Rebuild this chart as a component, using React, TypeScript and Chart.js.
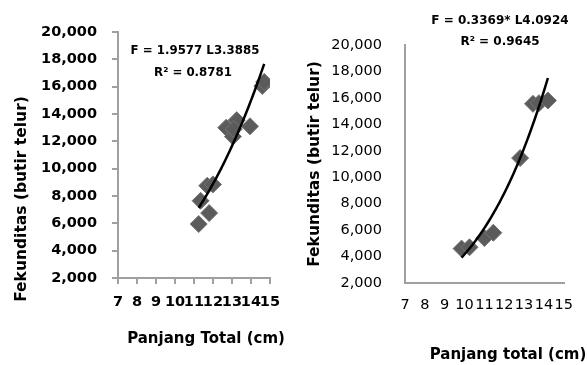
import React, { useEffect, useRef } from "react";
import { Chart, registerables } from "chart.js";

Chart.register(...registerables);

// ---- data ----
const leftLength = [11.25, 11.8, 11.35, 11.7, 12.0, 12.7, 13.25, 13.05, 13.1, 13.95, 14.6, 14.7];
const leftFecundity = [5950, 6750, 7650, 8750, 8850, 13000, 13550, 12350, 12900, 13100, 16050, 16350];
const leftCoefA = 1.9577;
const leftCoefB = 3.3885;
const leftEquation = ["F = 1.9577 L3.3885", "R² = 0.8781"];

const rightLength = [9.85, 10.25, 11.0, 11.45, 12.8, 13.45, 13.75, 14.2];
const rightFecundity = [4600, 4700, 5400, 5800, 11450, 15550, 15600, 15800];
const rightCoefA = 0.3369;
const rightCoefB = 4.0924;
const rightEquation = ["F = 0.3369* L4.0924", "R² = 0.9645"];

const xTicks = [7, 8, 9, 10, 11, 12, 13, 14, 15];
const yTicks = [2000, 4000, 6000, 8000, 10000, 12000, 14000, 16000, 18000, 20000];

const FONT = "'DejaVu Sans', sans-serif";

type PanelCfg = {
  left: number;
  width: number;
  height: number;
  padTop: number;
  padRight: number;
  yWidth: number;
  xHeight: number;
  tickWeight: string;
  tickSize: number;
  yPad: number;
  xPad: number;
  showTickMarks: boolean;
  eq: string[];
  eqPos: { x: number; y: number }[];
  eqSize: number;
  xTitle: string;
  xTitlePos: { x: number; y: number };
  yTitle: string;
  yTitlePos: { x: number; y: number };
  titleSize: number;
  yTitleSize: number;
};

function Panel({ xs, ys, a, b, cfg }: { xs: number[]; ys: number[]; a: number; b: number; cfg: PanelCfg }) {
  const ref = useRef<HTMLCanvasElement | null>(null);
  useEffect(() => {
    if (!ref.current) return;
    const pts = xs.map((x, i) => ({ x, y: ys[i] }));
    const lo = Math.min(...xs);
    const hi = Math.max(...xs);
    const n = 50;
    const fit: { x: number; y: number }[] = [];
    for (let i = 0; i <= n; i++) {
      const x = lo + ((hi - lo) * i) / n;
      fit.push({ x, y: a * Math.pow(x, b) });
    }
    const textPlugin = {
      id: "texts",
      afterDraw(chart: any) {
        const ctx = chart.ctx;
        ctx.save();
        ctx.fillStyle = "#000";
        ctx.textAlign = "center";
        ctx.textBaseline = "middle";
        ctx.font = `bold ${cfg.eqSize}px ${FONT}`;
        cfg.eq.forEach((t, i) => ctx.fillText(t, cfg.eqPos[i].x, cfg.eqPos[i].y));
        ctx.font = `bold ${cfg.titleSize}px ${FONT}`;
        ctx.fillText(cfg.xTitle, cfg.xTitlePos.x, cfg.xTitlePos.y);
        ctx.font = `bold ${cfg.yTitleSize}px ${FONT}`;
        ctx.translate(cfg.yTitlePos.x, cfg.yTitlePos.y);
        ctx.rotate(-Math.PI / 2);
        ctx.fillText(cfg.yTitle, 0, 0);
        ctx.restore();
      },
    };
    const axisColor = "#a0a0a0";
    const tickFont = { family: FONT, size: cfg.tickSize, weight: cfg.tickWeight as any };
    const chart = new Chart(ref.current, {
      type: "scatter",
      data: {
        datasets: [
          {
            type: "line",
            data: fit,
            borderColor: "#000",
            borderWidth: 2.5,
            pointRadius: 0,
            fill: false,
            tension: 0,
            order: 0,
          } as any,
          {
            data: pts,
            pointStyle: "rectRot",
            pointRadius: 8.5,
            backgroundColor: "#5b5b5b",
            borderColor: "#747474",
            borderWidth: 1,
            order: 1,
          },
        ],
      },
      options: {
        animation: false,
        responsive: true,
        maintainAspectRatio: false,
        devicePixelRatio: 1,
        layout: { padding: { top: cfg.padTop, right: cfg.padRight, left: 0, bottom: 0 } },
        plugins: { legend: { display: false }, tooltip: { enabled: false }, title: { display: false } },
        scales: {
          x: {
            type: "linear",
            min: xTicks[0],
            max: xTicks[xTicks.length - 1],
            afterBuildTicks: (s: any) => {
              s.ticks = xTicks.map((v) => ({ value: v }));
            },
            afterFit: (s: any) => {
              s.height = cfg.xHeight;
            },
            ticks: {
              autoSkip: false,
              maxRotation: 0,
              minRotation: 0,
              padding: cfg.xPad,
              color: "#000",
              font: tickFont,
              callback: (v: any) => String(v),
            },
            grid: {
              display: cfg.showTickMarks,
              drawOnChartArea: false,
              drawTicks: cfg.showTickMarks,
              tickLength: cfg.showTickMarks ? 6 : 0,
              color: axisColor,
              lineWidth: 2,
            },
            border: { display: true, color: axisColor, width: 2 },
          },
          y: {
            type: "linear",
            min: yTicks[0],
            max: yTicks[yTicks.length - 1],
            afterBuildTicks: (s: any) => {
              s.ticks = yTicks.map((v) => ({ value: v }));
            },
            afterFit: (s: any) => {
              s.width = cfg.yWidth;
            },
            ticks: {
              autoSkip: false,
              padding: cfg.yPad,
              color: "#000",
              font: tickFont,
              callback: (v: any) => Number(v).toLocaleString("en-US"),
            },
            grid: {
              display: cfg.showTickMarks,
              drawOnChartArea: false,
              drawTicks: cfg.showTickMarks,
              tickLength: cfg.showTickMarks ? 6 : 0,
              color: axisColor,
              lineWidth: 2,
            },
            border: { display: true, color: axisColor, width: 2 },
          },
        },
      },
      plugins: [textPlugin],
    });
    return () => chart.destroy();
  }, []);
  return (
    <div style={{ position: "absolute", left: cfg.left, top: 0, width: cfg.width, height: cfg.height }}>
      <canvas ref={ref} />
    </div>
  );
}

const leftCfg: PanelCfg = {
  left: 0,
  width: 290,
  height: 365,
  padTop: 32,
  padRight: 20,
  yWidth: 118,
  xHeight: 87,
  tickWeight: "bold",
  tickSize: 14.5,
  yPad: 15,
  xPad: 10,
  showTickMarks: true,
  eq: leftEquation,
  eqPos: [
    { x: 195, y: 51 },
    { x: 193, y: 73 },
  ],
  eqSize: 11.8,
  xTitle: "Panjang Total (cm)",
  xTitlePos: { x: 206, y: 339 },
  yTitle: "Fekunditas (butir telur)",
  yTitlePos: { x: 22, y: 199 },
  titleSize: 15,
  yTitleSize: 15.5,
};

const rightCfg: PanelCfg = {
  left: 290,
  width: 297,
  height: 365,
  padTop: 45,
  padRight: 13,
  yWidth: 115,
  xHeight: 82,
  tickWeight: "normal",
  tickSize: 14.5,
  yPad: 23,
  xPad: 14,
  showTickMarks: false,
  eq: rightEquation,
  eqPos: [
    { x: 210, y: 21 },
    { x: 210, y: 42 },
  ],
  eqSize: 12,
  xTitle: "Panjang total (cm)",
  xTitlePos: { x: 218, y: 355 },
  yTitle: "Fekunditas (butir telur)",
  yTitlePos: { x: 25, y: 164 },
  titleSize: 15,
  yTitleSize: 15.5,
};

export default function App() {
  return (
    <div style={{ position: "absolute", left: 0, top: 0, width: 587, height: 365, background: "#fff" }}>
      <Panel xs={leftLength} ys={leftFecundity} a={leftCoefA} b={leftCoefB} cfg={leftCfg} />
      <Panel xs={rightLength} ys={rightFecundity} a={rightCoefA} b={rightCoefB} cfg={rightCfg} />
    </div>
  );
}
